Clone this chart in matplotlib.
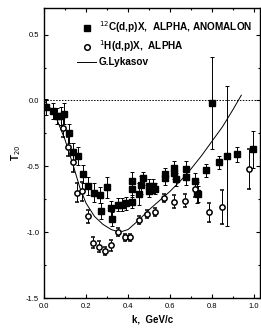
import matplotlib.pyplot as plt
from matplotlib.lines import Line2D
from matplotlib.ticker import MultipleLocator

plt.rcParams['font.family'] = ['Liberation Sans', 'DejaVu Sans']

# 12C(d,p)X data: k, T20, error
k_carbon = [0.01, 0.04, 0.06, 0.08, 0.095, 0.12, 0.14, 0.16, 0.187, 0.21, 0.24, 0.265,
            0.27, 0.30, 0.32, 0.325, 0.35, 0.37, 0.39, 0.42, 0.42, 0.42, 0.45, 0.46,
            0.47, 0.50, 0.50, 0.52, 0.53, 0.575, 0.575, 0.62, 0.62, 0.63, 0.675, 0.675,
            0.72, 0.73, 0.735, 0.77, 0.80, 0.835, 0.87, 0.92, 0.995]
t20_carbon = [-0.05, -0.08, -0.12, -0.12, -0.10, -0.25, -0.39, -0.42, -0.56, -0.65, -0.70, -0.72,
              -0.84, -0.66, -0.82, -0.90, -0.79, -0.79, -0.78, -0.77, -0.67, -0.61, -0.71, -0.64,
              -0.59, -0.65, -0.69, -0.65, -0.67, -0.56, -0.59, -0.51, -0.55, -0.60, -0.52, -0.58,
              -0.61, -0.70, -0.71, -0.53, -0.02, -0.47, -0.42, -0.41, -0.37]
err_carbon = [0.06, 0.06, 0.06, 0.07, 0.08, 0.07, 0.07, 0.07, 0.07, 0.07, 0.07, 0.06,
              0.06, 0.08, 0.06, 0.05, 0.05, 0.05, 0.05, 0.05, 0.06, 0.07, 0.08, 0.07,
              0.05, 0.05, 0.04, 0.05, 0.04, 0.05, 0.05, 0.05, 0.05, 0.05, 0.06, 0.06,
              0.06, 0.08, 0.06, 0.05, 0.35, 0.05, 0.53, 0.06, 0.14]

# 1H(d,p)X data
k_hydrogen = [0.09, 0.115, 0.14, 0.155, 0.18, 0.21, 0.235, 0.26, 0.29, 0.32, 0.35, 0.385,
              0.41, 0.45, 0.49, 0.53, 0.57, 0.62, 0.67, 0.72, 0.785, 0.85, 0.975]
t20_hydrogen = [-0.21, -0.35, -0.47, -0.70, -0.69, -0.88, -1.08, -1.11, -1.14, -1.10, -1.00, -1.04,
                -1.04, -0.91, -0.86, -0.85, -0.74, -0.77, -0.76, -0.67, -0.85, -0.81, -0.52]
err_hydrogen = [0.07, 0.07, 0.07, 0.07, 0.07, 0.05, 0.04, 0.04, 0.03, 0.04, 0.03, 0.03,
                0.03, 0.03, 0.03, 0.03, 0.03, 0.05, 0.05, 0.06, 0.07, 0.13, 0.15]

# G.Lykasov curve
k_theory = [0.0, 0.05, 0.1, 0.14, 0.17, 0.2, 0.24, 0.28, 0.32, 0.36, 0.4, 0.45, 0.5,
            0.55, 0.6, 0.65, 0.7, 0.75, 0.8, 0.85, 0.9, 0.94]
t20_theory = [0.0, -0.1, -0.3, -0.5, -0.66, -0.78, -0.88, -0.94, -0.98, -1.0, -0.98, -0.91, -0.83,
              -0.76, -0.69, -0.61, -0.52, -0.42, -0.31, -0.2, -0.07, 0.04]

fig = plt.figure(figsize=(2.61, 3.29), dpi=100)
ax = fig.add_axes([0.169, 0.094, 0.828, 0.881])

ax.axhline(0, color='black', linestyle=(0, (1.5, 1.5)), linewidth=0.7)
ax.errorbar(k_carbon, t20_carbon, yerr=err_carbon, fmt='s', color='black', markersize=3.8,
            elinewidth=0.7, capsize=1.5, capthick=0.7)
ax.errorbar(k_hydrogen, t20_hydrogen, yerr=err_hydrogen, fmt='o', color='black', mfc='white',
            markersize=3.8, mew=1.1, elinewidth=0.7, capsize=1.5, capthick=0.7)
ax.plot(k_theory, t20_theory, color='black', linewidth=0.7)

ax.set_xlim(0, 1.03)
ax.set_ylim(-1.5, 0.7)
ax.xaxis.set_major_locator(MultipleLocator(0.2))
ax.xaxis.set_minor_locator(MultipleLocator(0.1))
ax.yaxis.set_major_locator(MultipleLocator(0.5))
ax.yaxis.set_minor_locator(MultipleLocator(0.25))
ax.tick_params(which='both', direction='in', top=True, right=True, labelsize=5.5, width=0.8)
ax.tick_params(which='major', length=3)
ax.tick_params(which='minor', length=1.5)
ax.set_xticklabels([f'{v:.1f}' for v in ax.get_xticks()])
ax.set_yticklabels([f'{v:.1f}' for v in ax.get_yticks()])
for s in ax.spines.values():
    s.set_linewidth(1.0)

ax.set_xlabel('k,  GeV/c', fontsize=7, fontweight='bold', labelpad=3)
ax.set_ylabel('T$_{20}$', fontsize=7, fontweight='bold', labelpad=2)

handles = [
    Line2D([], [], marker='s', color='black', linestyle='none', markersize=4),
    Line2D([], [], marker='o', color='black', mfc='white', mew=1.1, linestyle='none', markersize=4),
    Line2D([], [], color='black', linewidth=0.7),
]
labels = ['$^{12}$C(d,p)X,  ALPHA, ANOMALON', '$^{1}$H(d,p)X,  ALPHA', 'G.Lykasov']
leg = ax.legend(handles, labels, loc='upper left', bbox_to_anchor=(0.12, 0.985), frameon=False,
                fontsize=7.2, handlelength=1.9, handletextpad=0.25, labelspacing=0.3, borderpad=0.2)
for t in leg.get_texts():
    t.set_fontweight('bold')

plt.savefig('out.png', dpi=100)
